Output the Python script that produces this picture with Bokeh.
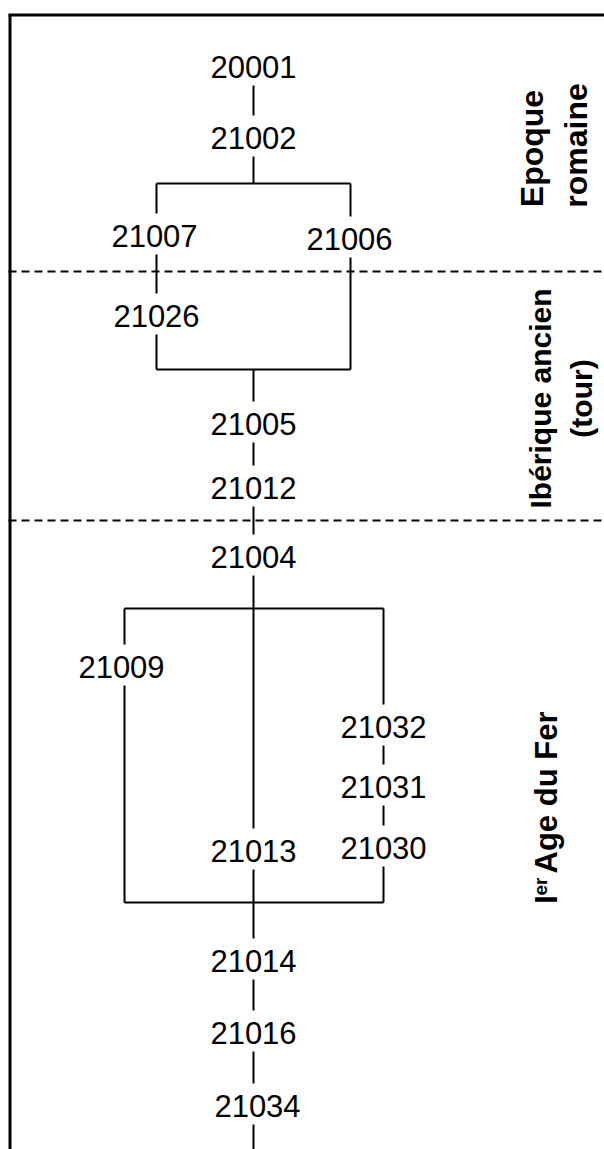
import math
from bokeh.plotting import figure
from bokeh.models import Range1d, ColumnDataSource
from bokeh.core.properties import value
from bokeh.embed import file_html
from bokeh.resources import INLINE

# ---------------- data: stratigraphic units (Harris matrix) ----------------
unit_labels = ["20001", "21002", "21007", "21006", "21026", "21005", "21012",
               "21004", "21009", "21032", "21031", "21013", "21030",
               "21014", "21016", "21034"]
unit_column = ["main", "main", "left", "right", "left", "main", "main",
               "main", "far_left", "far_right", "far_right", "main", "far_right",
               "main", "main", "main"]
unit_depth = [66, 137, 235, 238, 315, 423, 487,
              556, 666, 726, 786, 850, 847,
              960, 1032, 1105]

# junctions of the matrix (brackets)
junction_names = ["J1", "J1L", "J1R", "J2", "J2L", "J2R",
                  "J3", "J3L", "J3R", "J4", "J4L", "J4R", "END"]
junction_column = ["main", "left", "right", "main", "left", "right",
                   "main", "far_left", "far_right", "main", "far_left", "far_right", "main"]
junction_depth = [183, 183, 183, 369, 369, 369,
                  608, 608, 608, 902, 902, 902, 1152]

# relations (upper -> lower)
relations = [("20001", "21002"), ("21002", "J1"), ("J1L", "J1"), ("J1", "J1R"),
             ("J1L", "21007"), ("J1R", "21006"), ("21007", "21026"),
             ("21026", "J2L"), ("21006", "J2R"), ("J2L", "J2"), ("J2", "J2R"),
             ("J2", "21005"), ("21005", "21012"), ("21012", "21004"),
             ("21004", "J3"), ("J3L", "J3"), ("J3", "J3R"),
             ("J3L", "21009"), ("J3R", "21032"), ("J3", "21013"),
             ("21032", "21031"), ("21031", "21030"),
             ("21009", "J4L"), ("21030", "J4R"), ("21013", "J4"),
             ("J4L", "J4"), ("J4", "J4R"),
             ("J4", "21014"), ("21014", "21016"), ("21016", "21034"), ("21034", "END")]

# period boundaries and names
period_boundaries = [271, 520]
period_names = [["Epoque", "romaine"], ["Ibérique ancien", "(tour)"], ["Age du Fer"]]

# ---------------- layout ----------------
column_x = {"main": 253, "left": 156, "right": 350, "far_left": 124, "far_right": 383}
text_dx = {"21007": -2, "21009": -3, "21034": 4, "21006": -1}
GAP_ABOVE = 22
GAP_BELOW = 19

pos = {}
for n, c, d in zip(unit_labels, unit_column, unit_depth):
    pos[n] = (column_x[c], d, True)
for n, c, d in zip(junction_names, junction_column, junction_depth):
    pos[n] = (column_x[c], d, False)

W, H = 604, 1149
p = figure(width=W, height=H, x_range=Range1d(0, W), y_range=Range1d(H, 0),
           output_backend="svg", toolbar_location=None, min_border=0,
           background_fill_color="white", border_fill_color="white")
p.axis.visible = False
p.grid.visible = False
p.outline_line_color = None

# frame (top and left edges)
p.segment(x0=[8, 9.5], y0=[14.5, 14.5], x1=[W, 9.5], y1=[14.5, H],
          line_color="black", line_width=3)

# period boundaries
p.segment(x0=[8] * len(period_boundaries), y0=period_boundaries,
          x1=[W] * len(period_boundaries), y1=period_boundaries,
          line_color="black", line_width=2, line_dash="8 5")

# relation lines
x0s, y0s, x1s, y1s = [], [], [], []
for a, b in relations:
    xa, ya, la = pos[a]
    xb, yb, lb = pos[b]
    if xa == xb:
        top, bot = (a, b) if ya < yb else (b, a)
        xt, yt, lt = pos[top]
        xbb, yb2, lbb = pos[bot]
        y_start = yt + (GAP_BELOW if lt else 0)
        y_end = yb2 - (GAP_ABOVE if lbb else 0)
        x0s.append(xa); y0s.append(y_start); x1s.append(xa); y1s.append(y_end)
    else:
        x0s.append(xa); y0s.append(ya); x1s.append(xb); y1s.append(yb)
p.segment(x0=x0s, y0=y0s, x1=x1s, y1=y1s, line_color="black", line_width=2)

# unit labels
src = ColumnDataSource(dict(
    x=[column_x[c] + text_dx.get(n, 0) for n, c in zip(unit_labels, unit_column)],
    y=unit_depth, t=unit_labels))
p.text(x="x", y="y", text="t", source=src, text_align="center", text_baseline="middle",
       text_font=value("Liberation Sans"), text_font_size="31px", text_color="black")

# period labels (vertical)
per_x = [531, 575, 540, 581]
per_y = [148, 145, 398, 398]
per_t = [period_names[0][0], period_names[0][1], period_names[1][0], period_names[1][1]]
p.text(x=per_x[:2], y=per_y[:2], text=per_t[:2], angle=math.pi / 2, text_align="center",
       text_baseline="middle", text_font=value("Liberation Sans"),
       text_font_size="32px", text_font_style="bold", text_color="black")
p.text(x=per_x[2:], y=per_y[2:], text=per_t[2:], angle=math.pi / 2, text_align="center",
       text_baseline="middle", text_font=value("Liberation Sans"),
       text_font_size="30px", text_font_style="bold", text_color="black")
p.text(x=[546], y=[792], text=[period_names[2][0]], angle=math.pi / 2, text_align="center",
       text_baseline="middle", text_font=value("Liberation Sans"),
       text_font_size="31px", text_font_style="bold", text_color="black")
p.text(x=[546], y=[899], text=["I"], angle=math.pi / 2, text_align="center",
       text_baseline="middle", text_font=value("Liberation Sans"),
       text_font_size="31px", text_font_style="bold", text_color="black")
p.text(x=[540], y=[886], text=["er"], angle=math.pi / 2, text_align="center",
       text_baseline="middle", text_font=value("Liberation Sans"),
       text_font_size="19px", text_font_style="bold", text_color="black")

open("out.html", "w").write(file_html(p, INLINE))
